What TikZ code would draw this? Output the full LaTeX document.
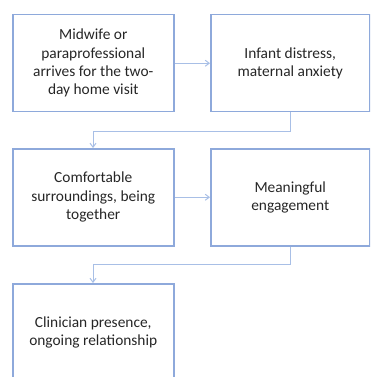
\documentclass[tikz,border=0pt]{standalone}
\usepackage{fontspec}
\setmainfont{Carlito}
\usetikzlibrary{arrows.meta}
\definecolor{boxblue}{HTML}{8EA9DB}
\definecolor{linkblue}{HTML}{A8BFE6}
\definecolor{txt}{HTML}{262626}
\begin{document}
\begin{tikzpicture}[x=1pt,y=-1pt,
  flowbox/.style={draw=boxblue,line width=1.5pt,rectangle,minimum width=161pt,minimum height=97pt,
    align=center,text=txt,font=\fontsize{15.4}{18.3}\selectfont,inner sep=2pt,anchor=north west},
  link/.style={draw=linkblue,line width=1pt,-{Straight Barb[length=4pt,width=6pt]}}]
\useasboundingbox (0,0) rectangle (370,377);
\begin{scope}
\clip (0,0) rectangle (370,377);
\node[flowbox] (a) at (12,14) {Midwife or\\paraprofessional\\arrives for the two-\\day home visit};
\node[flowbox,minimum width=159pt] (b) at (210,14) {Infant distress,\\maternal anxiety};
\node[flowbox] (c) at (12,148) {Comfortable\\surroundings, being\\together};
\node[flowbox,minimum width=159pt] (d) at (210,148) {Meaningful\\engagement};
\node[flowbox] (e) at (12,283) {Clinician presence,\\ongoing relationship};
\draw[link] (a.east) -- (b.west);
\draw[link] (c.east) -- (d.west);
\draw[link] (b.south) -- ++(0,19) -| (c.north-|93,0);
\draw[link] (d.south) -- ++(0,18) -| (e.north-|93,0);
\end{scope}
\end{tikzpicture}
\end{document}
